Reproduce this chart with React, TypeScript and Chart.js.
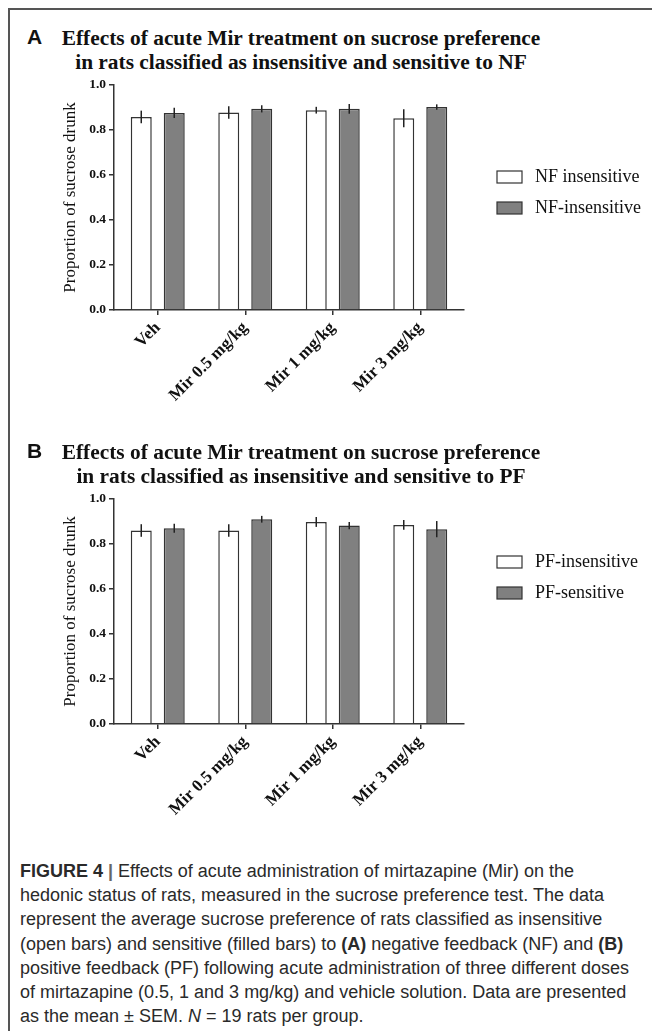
import React, { useEffect, useRef } from "react";
import { Chart, registerables } from "chart.js";

Chart.register(...registerables);

// ---------- data ----------
const categories = ["Veh", "Mir 0.5 mg/kg", "Mir 1 mg/kg", "Mir 3 mg/kg"];
const yTickValues = [0, 0.2, 0.4, 0.6, 0.8, 1.0];

const nfOpenLabel = "NF insensitive";
const nfFilledLabel = "NF-insensitive";
const nfOpen = [0.858, 0.878, 0.888, 0.852];
const nfOpenSem = [0.028, 0.028, 0.015, 0.04];
const nfFilled = [0.876, 0.894, 0.894, 0.902];
const nfFilledSem = [0.023, 0.016, 0.022, 0.012];

const pfOpenLabel = "PF-insensitive";
const pfFilledLabel = "PF-sensitive";
const pfOpen = [0.86, 0.86, 0.898, 0.885];
const pfOpenSem = [0.028, 0.028, 0.022, 0.022];
const pfFilled = [0.87, 0.91, 0.882, 0.866];
const pfFilledSem = [0.02, 0.015, 0.016, 0.036];

const SERIF = "'Liberation Serif', 'Times New Roman', serif";
const SANS = "'Liberation Sans', Arial, sans-serif";
const AXIS = "#333333";

const errorBarPlugin = {
  id: "errorBars",
  afterDatasetsDraw(chart: any) {
    const ctx = chart.ctx;
    const yScale = chart.scales.y;
    ctx.save();
    ctx.strokeStyle = "#222222";
    ctx.lineWidth = 1.5;
    chart.data.datasets.forEach((ds: any, di: number) => {
      const meta = chart.getDatasetMeta(di);
      meta.data.forEach((el: any, i: number) => {
        const v = ds.data[i];
        const e = ds.errors[i];
        const y1 = yScale.getPixelForValue(v + e);
        const y2 = yScale.getPixelForValue(v - e);
        ctx.beginPath();
        ctx.moveTo(el.x, y1);
        ctx.lineTo(el.x, y2);
        ctx.stroke();
      });
    });
    ctx.restore();
  },
};

const makeLegendPlugin = (legendTop: number) => ({
  id: "boxLegend",
  afterDraw(chart: any) {
    const ctx = chart.ctx;
    const x0 = chart.chartArea.right + 33;
    ctx.save();
    chart.data.datasets.forEach((ds: any, i: number) => {
      const y = legendTop + i * 31;
      ctx.fillStyle = ds.backgroundColor;
      ctx.fillRect(x0, y, 25, 12);
      ctx.strokeStyle = AXIS;
      ctx.lineWidth = 1.2;
      ctx.strokeRect(x0, y, 25, 12);
      ctx.fillStyle = "#111111";
      ctx.font = `18px ${SERIF}`;
      ctx.textBaseline = "middle";
      ctx.textAlign = "left";
      ctx.fillText(ds.label, x0 + 38, y + 6.5);
    });
    ctx.restore();
  },
});

type PanelProps = {
  top: number;
  letter: string;
  title1: string;
  title2: string;
  labels: string[];
  open: number[];
  openSem: number[];
  filled: number[];
  filledSem: number[];
  legendTop: number;
};

function Panel(p: PanelProps) {
  const ref = useRef<HTMLCanvasElement | null>(null);
  useEffect(() => {
    if (!ref.current) return;
    const chart = new Chart(ref.current, {
      type: "bar",
      data: {
        labels: categories,
        datasets: [
          {
            label: p.labels[0],
            data: p.open,
            errors: p.openSem,
            backgroundColor: "#ffffff",
            borderColor: AXIS,
            borderWidth: 1.5,
            categoryPercentage: 0.754,
            barPercentage: 0.636,
          } as any,
          {
            label: p.labels[1],
            data: p.filled,
            errors: p.filledSem,
            backgroundColor: "#808080",
            borderColor: AXIS,
            borderWidth: 1.5,
            categoryPercentage: 0.754,
            barPercentage: 0.636,
          } as any,
        ],
      },
      options: {
        animation: false,
        responsive: false,
        maintainAspectRatio: false,
        layout: { padding: { left: 56, right: 188, top: 15, bottom: 0 } },
        plugins: {
          legend: { display: false },
          tooltip: { enabled: false },
          title: { display: false },
        },
        scales: {
          x: {
            offset: true,
            grid: {
              display: true,
              drawOnChartArea: false,
              drawTicks: true,
              tickLength: 5,
              offset: false,
              color: AXIS,
              lineWidth: 1.5,
            },
            border: { display: true, color: AXIS, width: 1.5 },
            ticks: {
              autoSkip: false,
              maxRotation: 45,
              minRotation: 45,
              color: "#111111",
              padding: 3,
              font: { family: SERIF, size: 17, weight: "bold" },
            },
            afterFit: (s: any) => {
              s.height = 105;
            },
          },
          y: {
            min: 0,
            max: 1,
            afterBuildTicks: (s: any) => {
              s.ticks = yTickValues.map((v) => ({ value: v }));
            },
            grid: {
              display: true,
              drawOnChartArea: false,
              drawTicks: true,
              tickLength: 5,
              color: AXIS,
              lineWidth: 1.5,
            },
            border: { display: true, color: AXIS, width: 1.5 },
            ticks: {
              color: "#111111",
              padding: 3,
              font: { family: SERIF, size: 13.5, weight: "bold" },
              callback: (v: any) => Number(v).toFixed(1),
            },
            title: {
              display: true,
              text: "Proportion of sucrose drunk",
              color: "#111111",
              font: { family: SERIF, size: 17 },
              padding: { top: 4, bottom: 4 },
            },
            afterFit: (s: any) => {
              s.width = 58;
            },
          },
        },
      } as any,
      plugins: [errorBarPlugin, makeLegendPlugin(p.legendTop)],
    });
    return () => chart.destroy();
  }, []);

  return (
    <div style={{ position: "absolute", left: 0, top: p.top, width: 652, height: 420 }}>
      <div
        style={{
          position: "absolute",
          left: 27,
          top: 25,
          fontFamily: SANS,
          fontWeight: "bold",
          fontSize: 21,
          lineHeight: "24px",
          color: "#111",
        }}
      >
        {p.letter}
      </div>
      <div
        style={{
          position: "absolute",
          left: 0,
          top: 26,
          width: 602,
          textAlign: "center",
          fontFamily: SERIF,
          fontWeight: "bold",
          fontSize: 21.4,
          lineHeight: "24px",
          color: "#111",
          whiteSpace: "nowrap",
        }}
      >
        <div>{p.title1}</div>
        <div>{p.title2}</div>
      </div>
      <canvas
        ref={ref}
        width={652}
        height={345}
        style={{ position: "absolute", left: 0, top: 70, width: 652, height: 345 }}
      />
    </div>
  );
}

const captionStyle: React.CSSProperties = {
  position: "absolute",
  left: 20,
  top: 859,
  fontFamily: SANS,
  fontSize: 18,
  lineHeight: "24.2px",
  color: "#2a2a2a",
  whiteSpace: "nowrap",
};

export default function App() {
  return (
    <div
      style={{
        position: "absolute",
        left: 0,
        top: 0,
        width: 652,
        height: 1031,
        background: "#fff",
        overflow: "hidden",
      }}
    >
      <div style={{ position: "absolute", left: 8, top: 8, width: 660, height: 1100, borderTop: "2px solid #555", borderLeft: "2px solid #555" }} />
      <Panel
        top={0}
        letter="A"
        title1="Effects of acute Mir treatment on sucrose preference"
        title2="in rats classified as insensitive and sensitive to NF"
        labels={[nfOpenLabel, nfFilledLabel]}
        open={nfOpen}
        openSem={nfOpenSem}
        filled={nfFilled}
        filledSem={nfFilledSem}
        legendTop={101}
      />
      <Panel
        top={414}
        letter="B"
        title1="Effects of acute Mir treatment on sucrose preference"
        title2="in rats classified as insensitive and sensitive to PF"
        labels={[pfOpenLabel, pfFilledLabel]}
        open={pfOpen}
        openSem={pfOpenSem}
        filled={pfFilled}
        filledSem={pfFilledSem}
        legendTop={72}
      />
      <div style={captionStyle}>
        <div>
          <b>FIGURE 4</b> <span style={{ color: "#666", fontWeight: "bold" }}>|</span> Effects of acute administration of mirtazapine (Mir) on the
        </div>
        <div>hedonic status of rats, measured in the sucrose preference test. The data</div>
        <div>represent the average sucrose preference of rats classified as insensitive</div>
        <div>
          (open bars) and sensitive (filled bars) to <b>(A)</b> negative feedback (NF) and <b>(B)</b>
        </div>
        <div>positive feedback (PF) following acute administration of three different doses</div>
        <div>of mirtazapine (0.5, 1 and 3 mg/kg) and vehicle solution. Data are presented</div>
        <div>
          as the mean ± SEM. <i>N</i> = 19 rats per group.
        </div>
      </div>
    </div>
  );
}
